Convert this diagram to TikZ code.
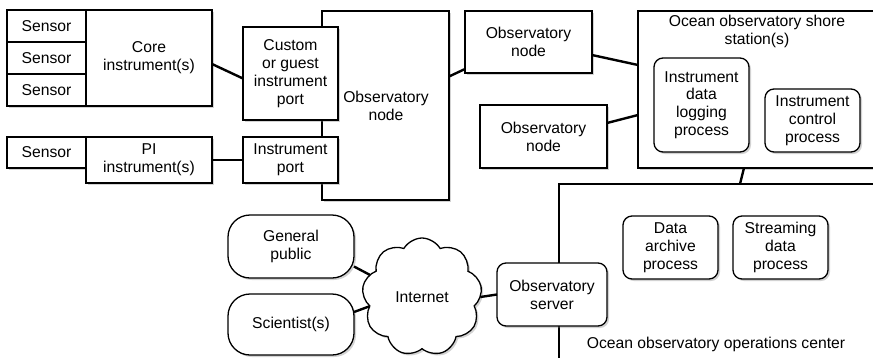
\documentclass[tikz,border=0pt]{standalone}
\usepackage{fontspec}
\setmainfont{Liberation Sans}
\usetikzlibrary{shapes, shapes.symbols, positioning, calc, shadows}

\begin{document}
\begin{tikzpicture}[
    x=1pt, y=-1pt,
    font=\fontsize{15.7}{17.8}\selectfont,
    % plain boxes with a light shadow
    box/.style={rectangle, draw=black, line width=1.3pt, fill=white, align=center, inner sep=0pt, outer sep=0pt, drop shadow={shadow xshift=2pt, shadow yshift=-2pt, opacity=0.35}},
    proc/.style={box, rounded corners=9pt},
    user/.style={box, rounded corners=22pt},
    title/.style={align=center, inner sep=0pt},
    link/.style={line width=2.4pt, color=black}
]
\useasboundingbox (0,0) rectangle (873,357);

% =========================================================
% INSTRUMENTS (Left Side)
% =========================================================
\node[box, minimum width=79pt, minimum height=32pt] (sensor_a) at (46.5, 26) {Sensor};
\node[box, minimum width=79pt, minimum height=32pt, below=0pt of sensor_a] (sensor_b) {Sensor};
\node[box, minimum width=79pt, minimum height=32pt, below=0pt of sensor_b] (sensor_c) {Sensor};
\node[box, minimum width=126pt, minimum height=96pt, right=0pt of sensor_b] (core) {Core\\instrument(s)};

\node[box, minimum width=79pt, minimum height=31pt] (sensor_d) at (46.5, 152.5) {Sensor};
\node[box, minimum width=126pt, minimum height=46pt, anchor=north west] (pi_inst) at (sensor_d.north east) {PI\\instrument(s)};

% =========================================================
% OBSERVATORY NODES
% =========================================================
\node[box, minimum width=127pt, minimum height=189pt] (obs_main) at (385.5, 105.5) {};
\node[title] (obs_main_text) at (386, 106) {Observatory\\node};

% ports sit on top of the main node
\node[box, minimum width=95pt, minimum height=93pt] (port_custom) at (290.5, 73.5) {Custom\\or guest\\instrument\\port};
\node[box, minimum width=95pt, minimum height=46pt] (port_inst) at (290.5, 160) {Instrument\\port};

\node[box, minimum width=127pt, minimum height=62pt] (obs_up) at (528.5, 42) {Observatory\\node};
\node[box, minimum width=127pt, minimum height=63pt] (obs_low) at (543.5, 136.5) {Observatory\\node};

\draw[link] ([yshift=-6pt]core.east) -- ([yshift=-5pt]port_custom.west);
\draw[link] (pi_inst.east) -- (port_inst.west);
\draw[link] ([yshift=29pt]obs_main.east) -- ([yshift=-27pt]obs_up.west);

% =========================================================
% SHORE STATION
% =========================================================
\node[box, minimum width=238pt, minimum height=157pt] (shore) at (757, 89.5) {};
\node[title, anchor=north] (shore_title) at (757, 15) {Ocean observatory shore\\station(s)};
\node[proc, minimum width=95pt, minimum height=94pt] (log_proc) at (701.5, 105) {Instrument\\data\\logging\\process};
\node[proc, minimum width=95pt, minimum height=63pt] (ctrl_proc) at (812.5, 120.5) {Instrument\\control\\process};

\draw[link] ([yshift=-13pt]obs_up.east) -- ([yshift=24.5pt]shore.west);
\draw[link] ([yshift=13.5pt]obs_low.east) -- ([yshift=-25.5pt]shore.west);

% =========================================================
% OPERATIONS CENTER
% =========================================================
\node[box, minimum width=331pt, minimum height=188pt] (ops) at (724.5, 278) {};
\node[title] (ops_title) at (716, 344) {Ocean observatory operations center};
\node[proc, minimum width=95pt, minimum height=63pt] (archive) at (670.5, 247.5) {Data\\archive\\process};
\node[proc, minimum width=95pt, minimum height=63pt] (stream) at (780.5, 247.5) {Streaming\\data\\process};
\node[proc, minimum width=110pt, minimum height=63pt] (server) at (552, 294.5) {Observatory\\server};

\draw[link] ([xshift=-13pt]shore.south) -- ([xshift=15.5pt]ops.north);

% =========================================================
% USERS AND INTERNET
% =========================================================
\node[box, cloud, cloud puffs=9, cloud puff arc=120, aspect=1, minimum width=120pt, minimum height=118pt] (internet) at (422, 297) {Internet};
\node[user, minimum width=126pt, minimum height=63pt] (public) at (291, 246.5) {General\\public};
\node[user, minimum width=126pt, minimum height=61pt] (scientist) at (291, 324.5) {Scientist(s)};

\draw[link] ([yshift=-20pt]public.east) -- (internet.157);
\draw[link] ([yshift=12.5pt]scientist.east) -- (internet.190);
\draw[link] (internet.east) -- (server.west);

\end{tikzpicture}
\end{document}
